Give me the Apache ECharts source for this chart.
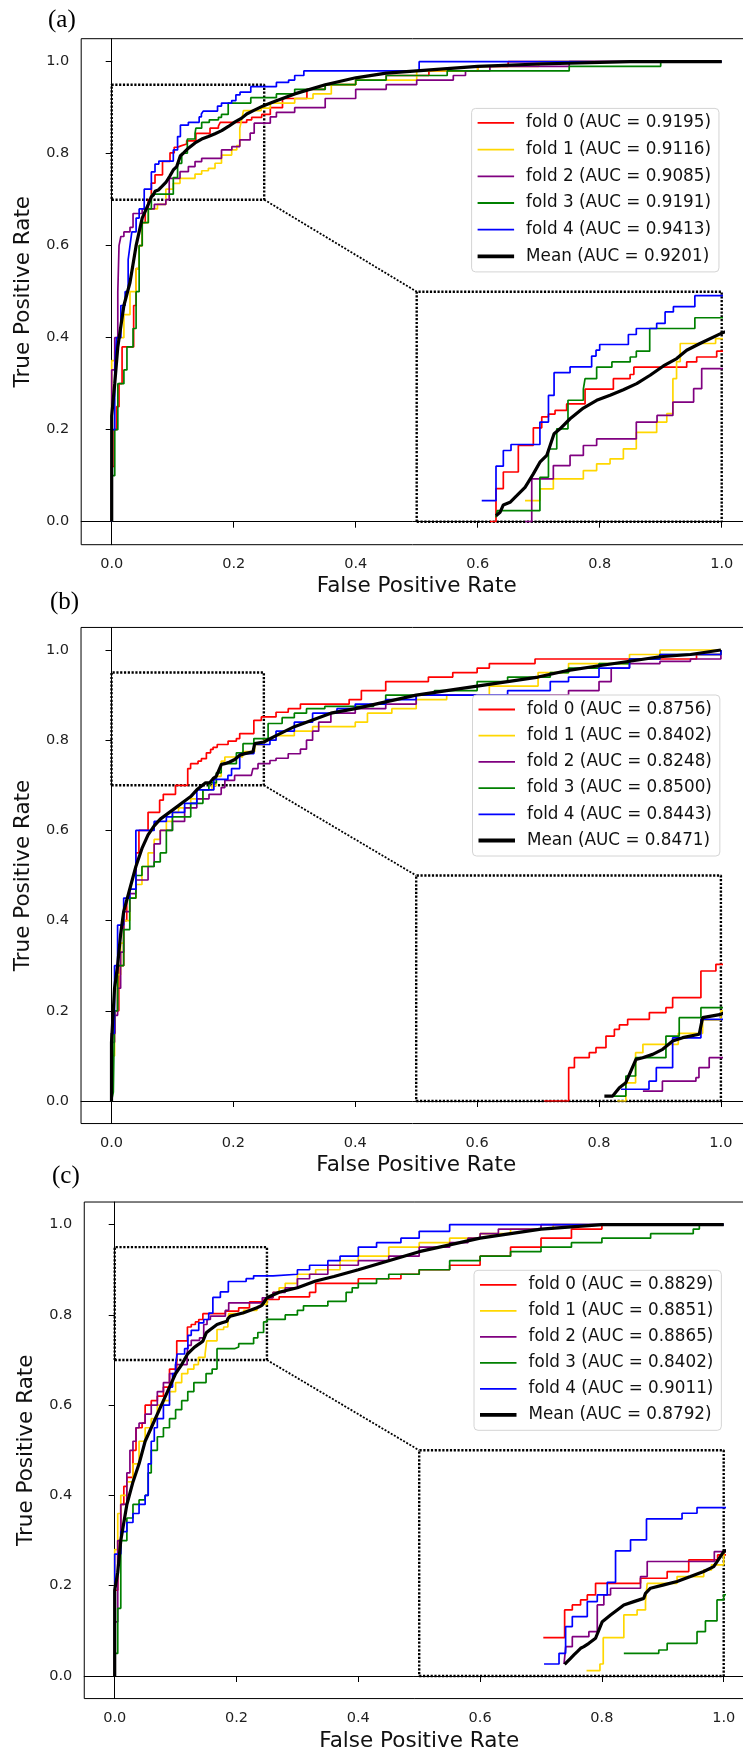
<!DOCTYPE html>
<html><head><meta charset="utf-8">
<script src="https://cdn.jsdelivr.net/npm/echarts@6/dist/echarts.min.js"></script>
<style>html,body{margin:0;padding:0;background:#fff}#c{width:743px;height:1756px}</style>
</head><body><div id="c"></div><script>
// ---------- data ----------
const tickValues = [0, 0.2, 0.4, 0.6, 0.8, 1.0];
const curveLabels = ['fold 0', 'fold 1', 'fold 2', 'fold 3', 'fold 4', 'Mean'];
const panelLetters = ['(a)', '(b)', '(c)'];
const aucA = ['0.9195', '0.9116', '0.9085', '0.9191', '0.9413', '0.9201'];
const aucB = ['0.8756', '0.8402', '0.8248', '0.8500', '0.8443', '0.8471'];
const aucC = ['0.8829', '0.8851', '0.8865', '0.8402', '0.9011', '0.8792'];
const zoomX = [0, 0.25], zoomY = [0.7, 0.95];
const insetX = [0.5, 1.0], insetY = [0, 0.5];

// panel (a)
const a_fold0 = [[0,0],[0,0.12],[0.004,0.2],[0.008,0.25],[0.012,0.3],[0.017,0.38],[0.036,0.47],[0.04,0.55],[0.045,0.6],[0.05,0.65],[0.055,0.68],[0.06,0.7],[0.065,0.736],[0.071,0.754],[0.0833,0.783],[0.0956,0.802],[0.1025,0.814],[0.108,0.817],[0.1134,0.821],[0.1229,0.828],[0.138,0.844],[0.1612,0.8555],[0.1749,0.86],[0.178,0.868],[0.2213,0.8737],[0.2295,0.879],[0.2459,0.8853],[0.26,0.9],[0.28,0.92],[0.32,0.94],[0.35,0.95],[0.4,0.96],[0.45,0.97],[0.52,0.98],[0.6,0.99],[0.65,1.0],[1,1]];
const a_fold1 = [[0,0],[0,0.35],[0.005,0.37],[0.01,0.4],[0.02,0.45],[0.03,0.5],[0.04,0.55],[0.045,0.6],[0.05,0.65],[0.06,0.68],[0.075,0.69],[0.0888,0.7229],[0.101,0.7356],[0.112,0.7465],[0.1366,0.7556],[0.1475,0.7629],[0.1585,0.7683],[0.1694,0.7792],[0.18,0.797],[0.1967,0.8083],[0.205,0.8174],[0.21,0.8555],[0.213,0.874],[0.216,0.8937],[0.245,0.899],[0.26,0.91],[0.3,0.92],[0.33,0.93],[0.36,0.95],[0.4,0.96],[0.5,0.98],[0.6,0.99],[0.7,1.0],[1,1]];
const a_fold2 = [[0,0],[0,0.33],[0.005,0.4],[0.01,0.5],[0.012,0.6],[0.015,0.62],[0.02,0.63],[0.03,0.64],[0.035,0.67],[0.05,0.68],[0.07,0.69],[0.0888,0.7],[0.0943,0.7465],[0.112,0.761],[0.1257,0.772],[0.1366,0.7828],[0.1475,0.79],[0.18,0.8083],[0.197,0.8155],[0.21,0.83],[0.227,0.8446],[0.2336,0.8664],[0.26,0.88],[0.27,0.89],[0.3,0.9],[0.35,0.92],[0.4,0.94],[0.45,0.95],[0.5,0.96],[0.56,0.97],[0.58,0.98],[0.62,0.99],[0.75,1.0],[1,1]];
const a_fold3 = [[0,0],[0,0.1],[0.005,0.2],[0.01,0.3],[0.02,0.33],[0.025,0.38],[0.035,0.42],[0.04,0.5],[0.045,0.6],[0.05,0.65],[0.06,0.68],[0.065,0.7047],[0.066,0.712],[0.101,0.7483],[0.108,0.779],[0.1148,0.801],[0.124,0.832],[0.1366,0.844],[0.138,0.8555],[0.1475,0.868],[0.16,0.8737],[0.175,0.879],[0.18,0.8853],[0.191,0.91],[0.228,0.9217],[0.27,0.93],[0.3,0.94],[0.35,0.95],[0.4,0.96],[0.45,0.97],[0.55,0.98],[0.75,0.99],[0.9,1.0],[1,1]];
const a_fold4 = [[0,0],[0,0.2],[0.005,0.33],[0.008,0.4],[0.015,0.47],[0.022,0.5],[0.027,0.57],[0.03,0.6],[0.033,0.63],[0.04,0.66],[0.045,0.68],[0.0533,0.7229],[0.065,0.7603],[0.071,0.7774],[0.0773,0.7839],[0.101,0.8083],[0.108,0.8373],[0.1126,0.862],[0.1257,0.8682],[0.1434,0.88],[0.147,0.8864],[0.15,0.8926],[0.1735,0.9035],[0.18,0.91],[0.1967,0.9155],[0.2036,0.928],[0.2104,0.9337],[0.228,0.9457],[0.27,0.955],[0.29,0.96],[0.3,0.97],[0.315,0.98],[0.504,1.0],[1,1]];
const a_mean = [[0,0],[0,0.23],[0.005,0.3],[0.01,0.38],[0.02,0.47],[0.03,0.52],[0.04,0.6],[0.05,0.66],[0.06,0.69],[0.065,0.7065],[0.0683,0.7102],[0.071,0.7182],[0.0765,0.7211],[0.082,0.7283],[0.0888,0.7374],[0.0956,0.752],[0.101,0.7647],[0.1066,0.772],[0.1126,0.7956],[0.1175,0.801],[0.1257,0.8119],[0.1366,0.8235],[0.1475,0.8319],[0.1585,0.8374],[0.1694,0.8435],[0.1803,0.8501],[0.1913,0.8592],[0.2022,0.8693],[0.2131,0.8773],[0.2213,0.8864],[0.2322,0.8937],[0.25,0.905],[0.27,0.915],[0.3,0.93],[0.35,0.95],[0.4,0.965],[0.45,0.975],[0.5,0.98],[0.6,0.99],[0.7,0.995],[0.85,1.0],[1,1]];

// panel (b)
const b_fold0 = [[0,0],[0,0.15],[0.006,0.2],[0.012,0.3],[0.02,0.4],[0.025,0.45],[0.04,0.55],[0.045,0.6],[0.06,0.64],[0.079,0.667],[0.085,0.68],[0.105,0.7],[0.1251,0.737],[0.1298,0.748],[0.142,0.7536],[0.1475,0.7591],[0.1557,0.772],[0.1626,0.7795],[0.1667,0.7843],[0.1735,0.7905],[0.1913,0.798],[0.2049,0.8035],[0.2104,0.8146],[0.2336,0.8441],[0.2459,0.8515],[0.27,0.862],[0.29,0.87],[0.31,0.88],[0.39,0.89],[0.41,0.91],[0.45,0.93],[0.52,0.94],[0.56,0.95],[0.6,0.96],[0.62,0.97],[0.695,0.98],[0.96,0.99],[1,0.99],[1,1]];
const b_fold1 = [[0,0],[0,0.1],[0.005,0.2],[0.01,0.28],[0.015,0.35],[0.02,0.4],[0.03,0.45],[0.04,0.48],[0.05,0.52],[0.06,0.55],[0.07,0.58],[0.08,0.6],[0.09,0.62],[0.1,0.64],[0.11,0.65],[0.13,0.67],[0.15,0.69],[0.165,0.7],[0.172,0.72],[0.18,0.7536],[0.186,0.7628],[0.215,0.775],[0.235,0.79],[0.25,0.8],[0.27,0.81],[0.3,0.82],[0.33,0.83],[0.4,0.84],[0.42,0.86],[0.46,0.87],[0.5,0.89],[0.55,0.9],[0.62,0.92],[0.7,0.95],[0.75,0.97],[0.85,0.99],[0.9,1.0],[1,1]];
const b_fold2 = [[0,0],[0,0.13],[0.005,0.19],[0.01,0.25],[0.015,0.33],[0.02,0.42],[0.03,0.46],[0.04,0.49],[0.06,0.52],[0.07,0.57],[0.08,0.6],[0.1,0.62],[0.12,0.65],[0.14,0.67],[0.16,0.68],[0.18,0.695],[0.186,0.711],[0.202,0.722],[0.2295,0.7259],[0.232,0.737],[0.2404,0.748],[0.26,0.755],[0.27,0.76],[0.29,0.77],[0.31,0.78],[0.32,0.8],[0.33,0.82],[0.34,0.84],[0.36,0.86],[0.4,0.87],[0.45,0.88],[0.5,0.9],[0.75,0.91],[0.8,0.93],[0.82,0.96],[0.85,0.97],[0.9,0.975],[0.95,0.98],[1,0.99]];
const b_fold3 = [[0,0],[0.003,0.02],[0.005,0.2],[0.01,0.3],[0.02,0.38],[0.03,0.45],[0.04,0.5],[0.05,0.52],[0.07,0.53],[0.08,0.55],[0.09,0.6],[0.1,0.63],[0.13,0.66],[0.15,0.69],[0.1598,0.7055],[0.172,0.7277],[0.18,0.748],[0.2049,0.772],[0.2158,0.7924],[0.2336,0.8035],[0.257,0.837],[0.28,0.85],[0.3,0.86],[0.32,0.87],[0.35,0.875],[0.43,0.88],[0.45,0.9],[0.53,0.91],[0.6,0.93],[0.65,0.94],[0.72,0.95],[0.75,0.96],[0.8,0.97],[0.85,0.98],[0.9,0.99],[1,1]];
const b_fold4 = [[0,0],[0,0.15],[0.005,0.3],[0.01,0.39],[0.02,0.45],[0.03,0.47],[0.04,0.6],[0.07,0.62],[0.09,0.63],[0.1,0.64],[0.12,0.66],[0.14,0.69],[0.168,0.713],[0.191,0.722],[0.197,0.737],[0.2104,0.77],[0.2336,0.7905],[0.26,0.8],[0.27,0.82],[0.3,0.84],[0.33,0.86],[0.37,0.87],[0.4,0.88],[0.45,0.89],[0.5,0.9],[0.65,0.91],[0.72,0.93],[0.75,0.94],[0.8,0.96],[0.85,0.98],[0.9,0.99],[1,1]];
const b_mean = [[0,0],[0,0.13],[0.005,0.25],[0.01,0.3],[0.015,0.37],[0.02,0.42],[0.03,0.47],[0.04,0.52],[0.05,0.56],[0.06,0.59],[0.07,0.61],[0.08,0.625],[0.09,0.635],[0.1,0.645],[0.11,0.655],[0.12,0.665],[0.13,0.675],[0.14,0.69],[0.1544,0.7055],[0.1612,0.7055],[0.1667,0.7148],[0.172,0.7203],[0.1803,0.7462],[0.1858,0.748],[0.194,0.7517],[0.2022,0.7573],[0.2104,0.7665],[0.2186,0.7702],[0.2322,0.774],[0.235,0.7924],[0.25,0.796],[0.27,0.81],[0.3,0.83],[0.33,0.845],[0.36,0.86],[0.4,0.87],[0.45,0.885],[0.5,0.9],[0.55,0.91],[0.6,0.92],[0.65,0.93],[0.7,0.94],[0.75,0.955],[0.8,0.965],[0.85,0.975],[0.9,0.985],[0.95,0.99],[1,1]];

// panel (c)
const c_fold0 = [[0,0],[0,0.19],[0.005,0.3],[0.01,0.38],[0.015,0.42],[0.02,0.44],[0.03,0.5],[0.035,0.55],[0.045,0.56],[0.05,0.6],[0.06,0.61],[0.07,0.62],[0.08,0.64],[0.09,0.68],[0.1019,0.7425],[0.1194,0.7732],[0.1257,0.7787],[0.1325,0.7843],[0.138,0.7898],[0.1448,0.8027],[0.1817,0.8083],[0.2036,0.8157],[0.2213,0.8286],[0.245,0.8341],[0.27,0.84],[0.32,0.85],[0.33,0.87],[0.4,0.88],[0.47,0.89],[0.5,0.9],[0.55,0.91],[0.6,0.93],[0.65,0.95],[0.7,0.97],[0.75,0.99],[0.8,1.0],[1,1]];
const c_fold1 = [[0,0],[0,0.28],[0.005,0.36],[0.01,0.4],[0.02,0.43],[0.03,0.47],[0.04,0.52],[0.05,0.55],[0.06,0.57],[0.07,0.6],[0.08,0.61],[0.09,0.63],[0.1,0.65],[0.11,0.67],[0.12,0.68],[0.13,0.69],[0.1374,0.7059],[0.1484,0.7133],[0.1511,0.7425],[0.168,0.7676],[0.1789,0.7732],[0.1858,0.7824],[0.1872,0.8027],[0.2117,0.8101],[0.2336,0.8175],[0.24,0.8231],[0.25,0.838],[0.26,0.85],[0.27,0.86],[0.28,0.87],[0.3,0.89],[0.33,0.9],[0.37,0.92],[0.4,0.93],[0.45,0.95],[0.5,0.96],[0.55,0.97],[0.6,0.98],[0.65,0.99],[0.72,1.0],[1,1]];
const c_fold2 = [[0,0],[0,0.12],[0.005,0.3],[0.01,0.38],[0.02,0.45],[0.025,0.5],[0.03,0.52],[0.035,0.55],[0.04,0.56],[0.05,0.58],[0.06,0.6],[0.07,0.63],[0.08,0.65],[0.09,0.67],[0.1,0.69],[0.1189,0.7133],[0.1203,0.7325],[0.1257,0.7436],[0.1393,0.7491],[0.1462,0.7787],[0.1516,0.7898],[0.1571,0.7972],[0.1817,0.8101],[0.1872,0.8268],[0.2423,0.8378],[0.26,0.85],[0.28,0.86],[0.3,0.88],[0.32,0.89],[0.35,0.91],[0.4,0.92],[0.45,0.93],[0.5,0.95],[0.55,0.96],[0.58,0.97],[0.6,0.98],[0.63,0.99],[0.7,1.0],[1,1]];
const c_fold3 = [[0,0],[0,0.05],[0.005,0.15],[0.01,0.3],[0.02,0.35],[0.03,0.38],[0.04,0.39],[0.05,0.4],[0.055,0.45],[0.06,0.5],[0.07,0.53],[0.08,0.55],[0.09,0.57],[0.1,0.59],[0.11,0.61],[0.12,0.63],[0.13,0.65],[0.15,0.67],[0.16,0.68],[0.168,0.7251],[0.1967,0.7288],[0.2036,0.7362],[0.2281,0.7491],[0.235,0.761],[0.2445,0.7843],[0.25,0.79],[0.28,0.8],[0.3,0.81],[0.31,0.82],[0.35,0.83],[0.38,0.85],[0.39,0.86],[0.4,0.87],[0.43,0.88],[0.45,0.89],[0.5,0.9],[0.55,0.92],[0.6,0.93],[0.65,0.94],[0.7,0.95],[0.75,0.96],[0.8,0.97],[0.88,0.98],[0.95,0.99],[0.96,1.0],[1,1]];
const c_fold4 = [[0,0],[0,0.27],[0.01,0.32],[0.02,0.34],[0.03,0.36],[0.04,0.38],[0.05,0.4],[0.055,0.47],[0.06,0.52],[0.065,0.55],[0.07,0.57],[0.08,0.6],[0.09,0.64],[0.095,0.67],[0.1,0.69],[0.1025,0.7133],[0.1148,0.7251],[0.1202,0.7547],[0.1257,0.7658],[0.138,0.7824],[0.1462,0.7898],[0.1544,0.8038],[0.1612,0.8386],[0.1735,0.8508],[0.1866,0.874],[0.2158,0.8803],[0.2281,0.8866],[0.26,0.89],[0.3,0.9],[0.32,0.91],[0.35,0.92],[0.37,0.93],[0.4,0.95],[0.43,0.96],[0.47,0.97],[0.5,0.985],[0.55,1.0],[1,1]];
const c_mean = [[0,0],[0,0.19],[0.005,0.23],[0.01,0.3],[0.02,0.38],[0.03,0.43],[0.04,0.47],[0.05,0.52],[0.06,0.55],[0.07,0.58],[0.08,0.61],[0.09,0.64],[0.1,0.67],[0.11,0.69],[0.1194,0.7129],[0.1216,0.7159],[0.1243,0.7196],[0.127,0.7233],[0.1298,0.727],[0.1325,0.7307],[0.1352,0.7325],[0.1393,0.7362],[0.1448,0.7418],[0.1503,0.7602],[0.1571,0.7676],[0.1626,0.7732],[0.168,0.7787],[0.1762,0.7824],[0.1844,0.786],[0.1858,0.7916],[0.1899,0.7972],[0.2008,0.8009],[0.2117,0.8046],[0.2227,0.8101],[0.2336,0.8157],[0.2418,0.8212],[0.25,0.8378],[0.27,0.85],[0.3,0.86],[0.33,0.875],[0.36,0.885],[0.4,0.9],[0.45,0.92],[0.5,0.94],[0.55,0.955],[0.6,0.97],[0.65,0.98],[0.7,0.99],[0.75,0.995],[0.8,1.0],[1,1]];

// ---------- layout / style ----------
const colors = ['#ff0000', '#ffd700', '#800080', '#008000', '#0000ff', '#000000'];
const widths = [1.7, 1.7, 1.7, 1.7, 1.7, 3.2];
// legend line icons (degenerate corner triangles fix the icon's bounding box to 36.5 x 18)
const iconThin = 'path://M0,0L0.01,0L0,0.01ZM0,8.1H36.5V9.9H0ZM36.5,18L36.49,18L36.5,17.99Z';
const iconThick = 'path://M0,0L0.01,0L0,0.01ZM0,7.1H36.5V10.9H0ZM36.5,18L36.49,18L36.5,17.99Z';
const FONT = 'DejaVu Sans';
const panels = [
  { curves: [a_fold0, a_fold1, a_fold2, a_fold3, a_fold4, a_mean], auc: aucA,
    x0: 111.7, ux: 610, y0: 521.7, uy: 460, lgLeft: 471.6, lgTop: 108.4, lgGap: 8.7,
    tLeft: 48, tTop: 8, nameGap: 31 },
  { curves: [b_fold0, b_fold1, b_fold2, b_fold3, b_fold4, b_mean], auc: aucB,
    x0: 111.5, ux: 609.4, y0: 1101, uy: 451, lgLeft: 472.5, lgTop: 695, lgGap: 8.2,
    tLeft: 50, tTop: 590, nameGap: 31 },
  { curves: [c_fold0, c_fold1, c_fold2, c_fold3, c_fold4, c_mean], auc: aucC,
    x0: 114.7, ux: 609, y0: 1676, uy: 451.4, lgLeft: 474, lgTop: 1270.3, lgGap: 8,
    tLeft: 52, tTop: 1164, nameGap: 32 }
];

function insetPoints(pts) {
  const out = [];
  let started = false;
  for (const p of pts) {
    if (!started) {
      if (p[1] >= zoomY[0] && p[0] <= zoomX[1]) started = true; else continue;
    }
    out.push(p);
    if (p[0] > zoomX[1]) break;
  }
  return out;
}
function rectPath(xr, yr) {
  return [[xr[0], yr[0]], [xr[1], yr[0]], [xr[1], yr[1]], [xr[0], yr[1]], [xr[0], yr[0]]];
}

const grid = [], xAxis = [], yAxis = [], series = [], legend = [], title = [];
const dotted = { color: '#000', width: 2.4, type: [2.2, 1.6], cap: 'butt' };

panels.forEach((P, pi) => {
  const gi = pi * 2;
  grid.push({ left: P.x0 - 0.05 * P.ux, top: P.y0 - 1.05 * P.uy, width: 1.1 * P.ux, height: 1.1 * P.uy,
    outerBoundsMode: 'none', containLabel: false,
    show: true, borderColor: '#000', borderWidth: 1, backgroundColor: 'transparent' });
  grid.push({ left: P.x0 + insetX[0] * P.ux, top: P.y0 - insetY[1] * P.uy,
    width: (insetX[1] - insetX[0]) * P.ux, height: (insetY[1] - insetY[0]) * P.uy,
    outerBoundsMode: 'none', containLabel: false, show: false });
  const axLabel = { customValues: tickValues, formatter: v => v.toFixed(1), fontSize: 14.5,
    fontFamily: FONT, color: '#1e1e1e', margin: 12 };
  const axTick = { customValues: tickValues, length: 6, lineStyle: { color: '#000', width: 1 } };
  xAxis.push({ type: 'value', gridIndex: gi, min: -0.05, max: 1.05, splitLine: { show: false },
    axisLine: { lineStyle: { color: '#000', width: 1 } }, axisTick: axTick, axisLabel: axLabel,
    name: 'False Positive Rate', nameLocation: 'middle', nameGap: P.nameGap,
    nameTextStyle: { fontSize: 21.5, fontFamily: FONT, color: '#111' } });
  yAxis.push({ type: 'value', gridIndex: gi, min: -0.05, max: 1.05, splitLine: { show: false },
    axisLine: { lineStyle: { color: '#000', width: 1 } }, axisTick: axTick, axisLabel: axLabel,
    name: 'True Positive Rate', nameLocation: 'middle', nameGap: 47,
    nameTextStyle: { fontSize: 21.5, fontFamily: FONT, color: '#111' } });
  xAxis.push({ type: 'value', gridIndex: gi + 1, min: zoomX[0], max: zoomX[1], show: false });
  yAxis.push({ type: 'value', gridIndex: gi + 1, min: zoomY[0], max: zoomY[1], show: false });

  // dotted zoom rectangle, inset frame and connector
  series.push({ type: 'line', xAxisIndex: gi, yAxisIndex: gi, data: rectPath(zoomX, zoomY),
    symbol: 'none', lineStyle: dotted, silent: true, z: 1, animation: false });
  series.push({ type: 'line', xAxisIndex: gi, yAxisIndex: gi, data: rectPath(insetX, insetY),
    symbol: 'none', lineStyle: dotted, silent: true, z: 1, animation: false });
  series.push({ type: 'line', xAxisIndex: gi, yAxisIndex: gi,
    data: [[zoomX[1], zoomY[0]], [insetX[0], insetY[1]]],
    symbol: 'none', lineStyle: { color: '#000', width: 1.8, type: [2, 1.6], cap: 'butt' }, silent: true, z: 1, animation: false });

  const legendData = [];
  P.curves.forEach((pts, ci) => {
    const name = curveLabels[ci] + ' (AUC = ' + P.auc[ci] + ')';
    legendData.push({ name, icon: ci < 5 ? iconThin : iconThick });
    const common = { name, type: 'line', symbol: 'none', step: ci < 5 ? 'end' : false,
      lineStyle: { color: colors[ci], width: widths[ci] }, itemStyle: { color: colors[ci] },
      z: ci < 5 ? 2 : 3, animation: false };
    series.push(Object.assign({}, common, { xAxisIndex: gi, yAxisIndex: gi, data: pts }));
    series.push(Object.assign({}, common, { xAxisIndex: gi + 1, yAxisIndex: gi + 1,
      data: insetPoints(pts), clip: true }));
  });

  legend.push({ data: legendData, orient: 'vertical', left: P.lgLeft, top: P.lgTop,
    itemWidth: 36.5, itemHeight: 18, itemGap: P.lgGap, padding: [5.5, 8, 6.5, 6],
    itemStyle: { borderWidth: 0 },
    backgroundColor: 'rgba(255,255,255,0.85)', borderColor: '#d4d4d4', borderWidth: 1, borderRadius: 4,
    selectedMode: false,
    textStyle: { fontSize: 16.8, fontFamily: FONT, color: '#111', lineHeight: 18, padding: [0, 0, 0, 7] } });
  title.push({ text: panelLetters[pi], left: P.tLeft, top: P.tTop, padding: 0,
    textStyle: { fontFamily: 'Liberation Serif', fontSize: 25, fontWeight: 'normal', color: '#000' } });
});

const chart = echarts.init(document.getElementById('c'), null, { renderer: 'canvas' });
chart.setOption({ animation: false, backgroundColor: '#fff', title, grid, xAxis, yAxis, series, legend });
</script></body></html>
